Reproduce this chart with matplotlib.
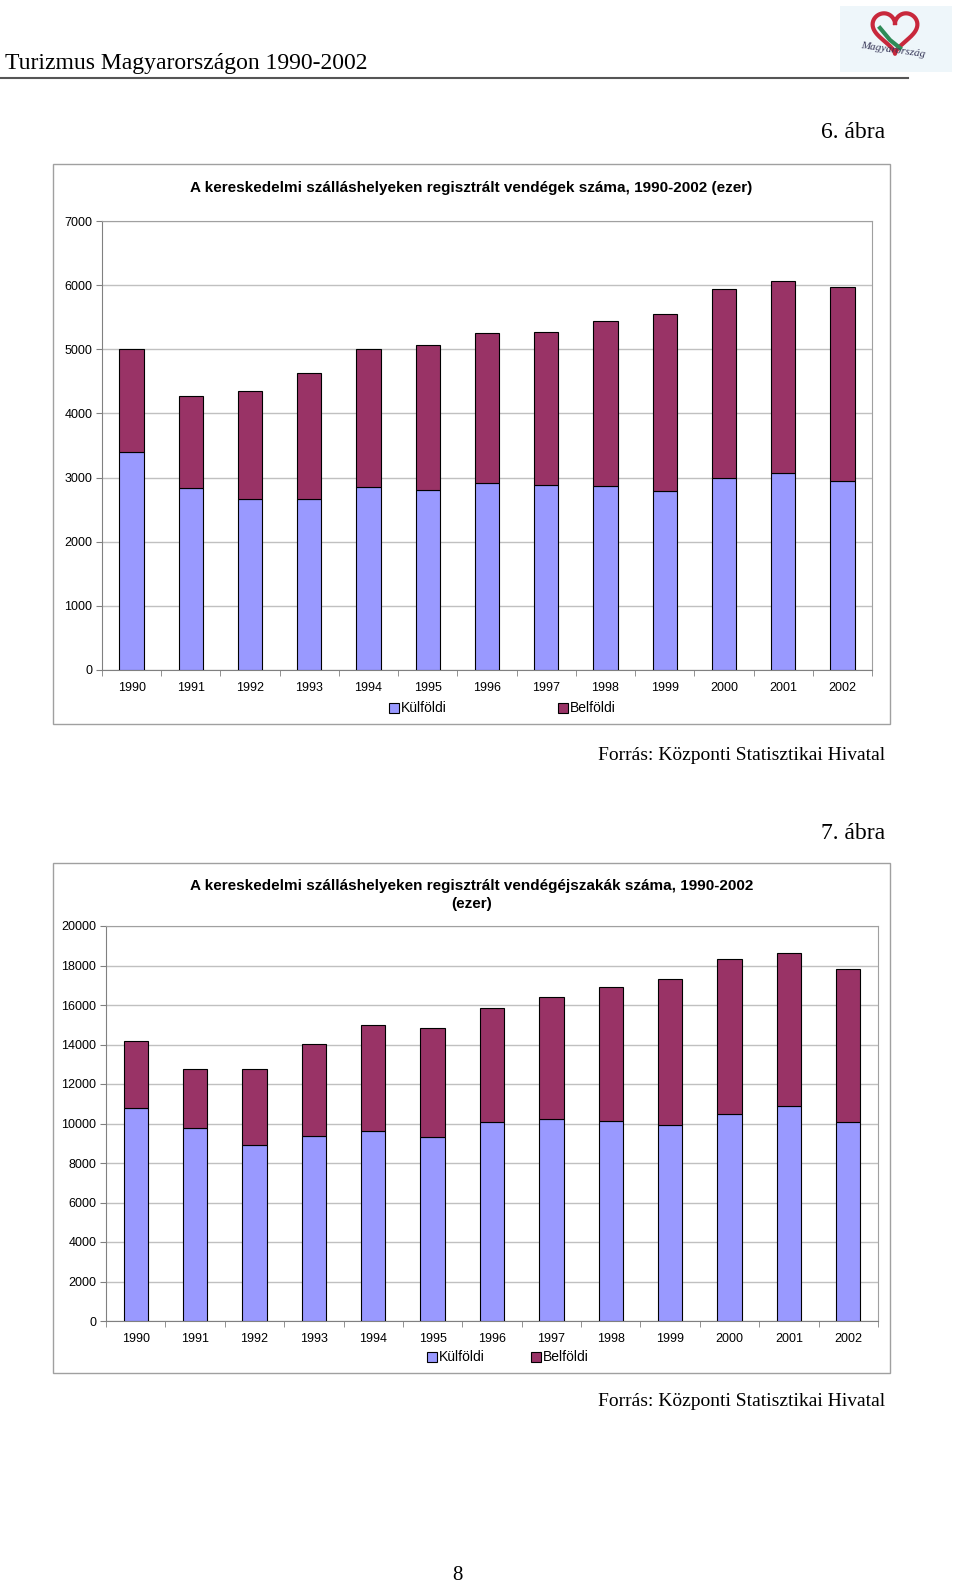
import matplotlib
matplotlib.use("Agg")
import matplotlib.pyplot as plt
import matplotlib.patches as patches
import numpy as np

# Data (ezer)
years = ["1990", "1991", "1992", "1993", "1994", "1995", "1996",
         "1997", "1998", "1999", "2000", "2001", "2002"]

# 6. ábra - vendégek száma
vendeg_kulfoldi = [3395, 2840, 2660, 2670, 2855, 2810, 2920, 2890, 2875, 2795, 2995, 3070, 2950]
vendeg_osszes = [5000, 4270, 4350, 4635, 5010, 5065, 5255, 5275, 5440, 5550, 5940, 6065, 5970]
vendeg_belfoldi = [t - k for t, k in zip(vendeg_osszes, vendeg_kulfoldi)]

# 7. ábra - vendégéjszakák száma
ej_kulfoldi = [10770, 9750, 8890, 9380, 9600, 9340, 10085, 10220, 10120, 9930, 10505, 10890, 10070]
ej_osszes = [14160, 12780, 12745, 14025, 14985, 14850, 15840, 16400, 16900, 17320, 18350, 18640, 17830]
ej_belfoldi = [t - k for t, k in zip(ej_osszes, ej_kulfoldi)]

W, H = 960, 1586
BLUE = '#9999FF'
MAROON = '#993366'
SANS = 'Liberation Sans'
SERIF = 'Liberation Serif'

fig = plt.figure(figsize=(W / 100, H / 100), dpi=100)
fig.patch.set_facecolor('white')


def fx(x):
    return x / W


def fy(y):
    return 1 - y / H


def add_rect(x0, y0, x1, y1, **kw):
    r = patches.Rectangle((fx(x0), fy(y1)), fx(x1) - fx(x0), fy(y0) - fy(y1),
                          transform=fig.transFigure, fill=False, **kw)
    fig.add_artist(r)


def stacked_chart(box, plot, title, kulf, belf, ymax, ystep, title_y, legend_y, leg_x):
    # outer chart frame
    add_rect(*box, edgecolor='#A0A0A0', linewidth=1.0)
    x0, y0, x1, y1 = plot
    ax = fig.add_axes([fx(x0), fy(y1), fx(x1) - fx(x0), fy(y0) - fy(y1)])
    x = np.arange(len(years))
    ax.bar(x, kulf, width=0.41, color=BLUE, edgecolor='black', linewidth=0.8, zorder=3)
    ax.bar(x, belf, bottom=kulf, width=0.41, color=MAROON, edgecolor='black', linewidth=0.8, zorder=3)
    ax.set_xlim(-0.5, len(years) - 0.5)
    ax.set_ylim(0, ymax)
    ax.set_yticks(np.arange(0, ymax + 1, ystep))
    ax.set_yticklabels([str(v) for v in np.arange(0, ymax + 1, ystep)], fontsize=9, family=SANS)
    ax.yaxis.grid(True, color='#C0C0C0', linewidth=1.0, zorder=0)
    ax.set_xticks(x)
    ax.set_xticklabels(years, fontsize=9, family=SANS)
    ax.set_xticks(np.arange(-0.5, len(years)), minor=True)
    ax.tick_params(axis='x', which='major', length=0, pad=9)
    ax.tick_params(axis='x', which='minor', length=4, color='#808080')
    ax.tick_params(axis='y', length=4, color='#808080', pad=3)
    for s in ['top', 'right']:
        ax.spines[s].set_color('#A0A0A0')
    for s in ['left', 'bottom']:
        ax.spines[s].set_color('#808080')
    fig.text(fx((box[0] + box[2]) / 2), fy(title_y), title, ha='center', va='center',
             fontsize=11, fontweight='bold', family=SANS, linespacing=1.3)
    # legend
    for (lx, lab, col) in zip(leg_x, ['Külföldi', 'Belföldi'], [BLUE, MAROON]):
        sq = patches.Rectangle((fx(lx), fy(legend_y + 5)), fx(10), fy(0) - fy(10),
                               transform=fig.transFigure, facecolor=col,
                               edgecolor='black', linewidth=0.8)
        fig.add_artist(sq)
        fig.text(fx(lx + 12), fy(legend_y), lab, ha='left', va='center', fontsize=10, family=SANS)
    return ax


# header
fig.text(fx(5), fy(63), 'Turizmus Magyarországon 1990-2002', ha='left', va='center',
         fontsize=17, family=SERIF)
fig.add_artist(plt.Line2D([0, fx(908)], [fy(78), fy(78)], transform=fig.transFigure,
                          color='#555555', linewidth=1.5))
# logo (simplified)
fig.add_artist(patches.Rectangle((fx(840), fy(72)), fx(112), fy(0) - fy(66),
                                 transform=fig.transFigure, facecolor='#EEF6FA',
                                 edgecolor='none'))
t = np.linspace(0, 2 * np.pi, 200)
hx = 16 * np.sin(t) ** 3
hy = 13 * np.cos(t) - 5 * np.cos(2 * t) - 2 * np.cos(3 * t) - np.cos(4 * t)
fig.add_artist(plt.Line2D(fx(895 + hx * 1.4), fy(30 - hy * 1.4), transform=fig.transFigure,
                          color='#C8283C', linewidth=3))
fig.add_artist(plt.Line2D(fx(np.array([880, 890, 900])), fy(np.array([28, 40, 48])),
                          transform=fig.transFigure, color='#2E8B57', linewidth=3))
fig.text(fx(893), fy(50), 'Magyarország', ha='center', va='center', fontsize=8,
         style='italic', family=SERIF, color='#333355', rotation=-8)

fig.text(fx(885), fy(133), '6. ábra', ha='right', va='center', fontsize=17, family=SERIF)

stacked_chart((53, 164, 890, 724), (102, 221, 872, 670),
              'A kereskedelmi szálláshelyeken regisztrált vendégek száma, 1990-2002 (ezer)',
              vendeg_kulfoldi, vendeg_belfoldi, 7000, 1000, 188, 708, [389, 558])

fig.text(fx(885), fy(755), 'Forrás: Központi Statisztikai Hivatal', ha='right', va='center',
         fontsize=14, family=SERIF)

fig.text(fx(885), fy(834), '7. ábra', ha='right', va='center', fontsize=17, family=SERIF)

stacked_chart((53, 863, 890, 1373), (106, 926, 878, 1321),
              'A kereskedelmi szálláshelyeken regisztrált vendégéjszakák száma, 1990-2002\n(ezer)',
              ej_kulfoldi, ej_belfoldi, 20000, 2000, 895, 1357, [427, 531])

fig.text(fx(885), fy(1402), 'Forrás: Központi Statisztikai Hivatal', ha='right', va='center',
         fontsize=14, family=SERIF)

fig.text(fx(457), fy(1576), '8', ha='center', va='center', fontsize=15, family=SERIF)

fig.savefig('out.png', dpi=100, facecolor='white')
